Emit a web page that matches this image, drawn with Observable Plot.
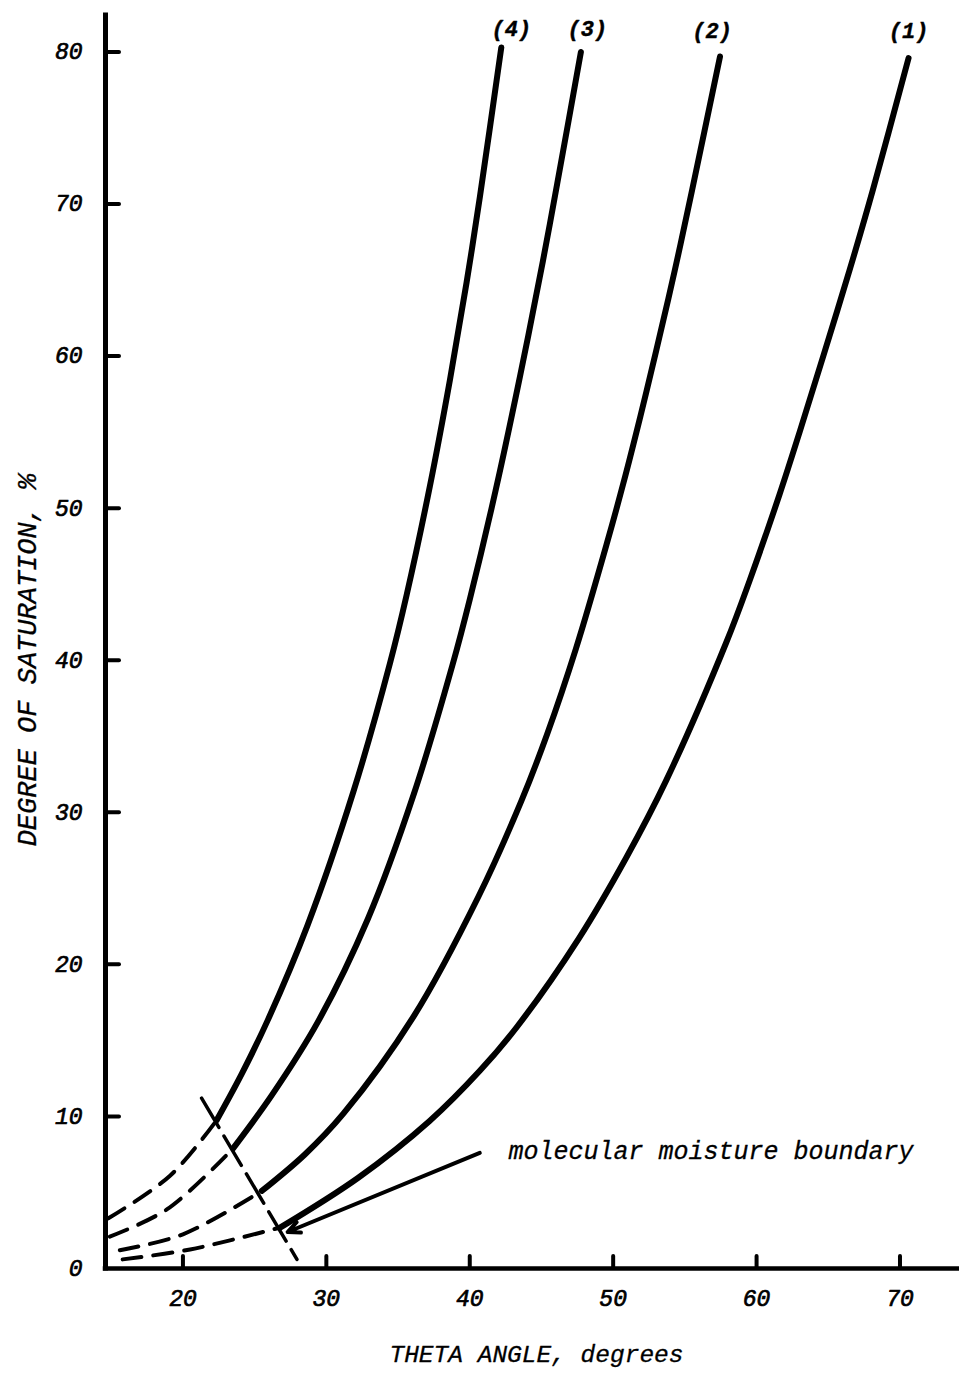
<!DOCTYPE html>
<html>
<head>
<meta charset="utf-8">
<script src="https://cdn.jsdelivr.net/npm/d3@7"></script>
<script src="https://cdn.jsdelivr.net/npm/@observablehq/plot@0.6"></script>
<style>
  html, body { margin: 0; padding: 0; background: #fff; }
  #chart svg { display: block; }
</style>
</head>
<body>
<div id="chart"></div>
<script>
// Axis ticks
const xTicks = [20, 30, 40, 50, 60, 70];
const yTicks = [0, 10, 20, 30, 40, 50, 60, 70, 80];

// Curve names, as labelled at the top
const curveNames = ["(1)", "(2)", "(3)", "(4)"];

// Solid branches: [theta angle (deg), degree of saturation (%)]
const curve1 = [[26.8, 2.7], [32.2, 5.95], [37.2, 9.7], [40.7, 13.0], [43.3, 15.9], [47.6, 21.7], [50.9, 27.0], [53.7, 32.1], [57.9, 41.2], [59.5, 45.2], [61.6, 50.9], [63.0, 55.0], [64.65, 60.0], [66.5, 65.7], [68.1, 70.9], [70.6, 79.6]];
const curve2 = [[25.5, 5.1], [28.5, 7.5], [31.2, 10.2], [36.1, 16.6], [40.6, 24.45], [43.6, 30.75], [45.4, 35.15], [47.4, 40.75], [49.55, 47.65], [50.7, 51.6], [51.9, 56.05], [53.0, 60.35], [54.3, 65.65], [55.5, 70.9], [57.45, 79.7]];
const curve3 = [[23.5, 7.9], [26.2, 11.4], [29.4, 16.2], [32.9, 23.0], [36.1, 31.2], [38.8, 39.7], [40.0, 44.0], [41.8, 51.15], [43.5, 58.65], [45.1, 66.25], [46.1, 71.35], [47.75, 80.0]];
const curve4 = [[22.35, 9.75], [24.1, 12.8], [25.9, 16.3], [28.7, 22.6], [31.9, 31.4], [34.45, 39.85], [35.6, 44.3], [37.22, 51.45], [38.62, 58.45], [39.78, 64.85], [40.71, 70.5], [42.2, 80.3]];

// Dashed branches below the molecular moisture boundary
const dash1 = [[15.8, 0.6], [20.5, 1.25], [26.8, 2.7]];
const dash2 = [[15.6, 1.2], [20.0, 2.25], [25.5, 5.1]];
const dash3 = [[14.9, 2.1], [18.9, 3.9], [23.5, 7.9]];
const dash4 = [[14.8, 3.3], [19.1, 6.1], [22.35, 9.75]];

// Molecular moisture boundary (dashed straight line) and its pointer
const boundary = [[21.3, 11.2], [27.95, 0.6]];
const pointer = {theta1: 40.7, sat1: 7.6, theta2: 27.3, sat2: 2.4};
const pointerText = "molecular moisture boundary";
const pointerTextAt = [42.7, 7.75];

// Curve label positions [theta, saturation]
const curveLabelAt = [[70.6, 81.4], [56.9, 81.4], [48.2, 81.5], [42.9, 81.5]];

const xLabel = "THETA ANGLE, degrees";
const yLabel = "DEGREE OF SATURATION, %";

const xDomain = [14.6, 74.15];
const yDomain = [0, 82.4];

const toRows = (pts, name) => pts.map(([theta, sat]) => ({curve: name, theta, sat}));
const solid = [curve1, curve2, curve3, curve4].flatMap((c, i) => toRows(c, curveNames[i]));
const dashed = [dash1, dash2, dash3, dash4].flatMap((c, i) => toRows(c, curveNames[i]));
const boundaryRows = toRows(boundary, "boundary");
const labels = curveLabelAt.map(([theta, sat], i) => ({theta, sat, text: curveNames[i]}));

const W = 959, H = 1375;
const mL = 105, mR = 0, mT = 15, mB = 107;
const frameW = W - mL - mR, frameH = H - mT - mB;
const font = "'Liberation Mono', 'Courier New', monospace";
const ink = {fill: "#000", stroke: "#000", strokeWidth: 0.7, fontStyle: "italic"};

const chart = Plot.plot({
  width: W,
  height: H,
  marginLeft: mL,
  marginRight: mR,
  marginTop: mT,
  marginBottom: mB,
  style: {background: "#fff", color: "#000", fontFamily: font},
  x: {domain: xDomain, axis: null},
  y: {domain: yDomain, axis: null},
  marks: [
    // axis lines
    Plot.ruleX([xDomain[0]], {stroke: "#000", strokeWidth: 5, strokeLinecap: "square"}),
    Plot.ruleY([0], {stroke: "#000", strokeWidth: 4.5, strokeLinecap: "square"}),
    // inward ticks
    Plot.ruleY(yTicks.filter(d => d > 0), {y: d => d, insetRight: frameW - 14, stroke: "#000", strokeWidth: 4, strokeLinecap: "round"}),
    Plot.ruleX(xTicks, {x: d => d, insetTop: frameH - 12, stroke: "#000", strokeWidth: 4, strokeLinecap: "round"}),
    // tick labels
    Plot.text(yTicks, {y: d => d, text: d => String(d), frameAnchor: "left", dx: -23, textAnchor: "end", fontSize: 23, ...ink}),
    Plot.text(xTicks, {x: d => d, text: d => String(d), frameAnchor: "bottom", dy: 30, textAnchor: "middle", lineAnchor: "middle", fontSize: 23, ...ink}),
    // axis titles
    Plot.text([xLabel], {text: d => d, frameAnchor: "bottom", dx: 4, dy: 86, textAnchor: "middle", lineAnchor: "middle", fontSize: 24.5, ...ink, strokeWidth: 0.3}),
    Plot.text([yLabel], {text: d => d, frameAnchor: "left", dx: -78, dy: 18, rotate: -90, textAnchor: "middle", lineAnchor: "middle", fontSize: 27, ...ink, strokeWidth: 0.3}),
    // dashed extensions
    Plot.line(dashed, {x: "theta", y: "sat", z: "curve", curve: "catmull-rom", stroke: "#000", strokeWidth: 4, strokeDasharray: "19,12", strokeLinecap: "round"}),
    // boundary
    Plot.line(boundaryRows, {x: "theta", y: "sat", stroke: "#000", strokeWidth: 3.5, strokeDasharray: "34,10", strokeLinecap: "round"}),
    // solid curves
    Plot.line(solid, {x: "theta", y: "sat", z: "curve", curve: "catmull-rom", stroke: "#000", strokeWidth: 6, strokeLinecap: "round", strokeLinejoin: "round"}),
    // curve labels
    Plot.text(labels, {x: "theta", y: "sat", text: "text", fontSize: 22, fontWeight: "bold", ...ink, strokeWidth: 0.4}),
    // pointer to the boundary
    Plot.arrow([pointer], {x1: "theta1", y1: "sat1", x2: "theta2", y2: "sat2", stroke: "#000", strokeWidth: 4, headLength: 5, headAngle: 50}),
    Plot.text([pointerText], {text: d => d, x: () => pointerTextAt[0], y: () => pointerTextAt[1], textAnchor: "start", fontSize: 25, ...ink, strokeWidth: 0.3})
  ]
});

document.getElementById("chart").appendChild(chart);
</script>
</body>
</html>
